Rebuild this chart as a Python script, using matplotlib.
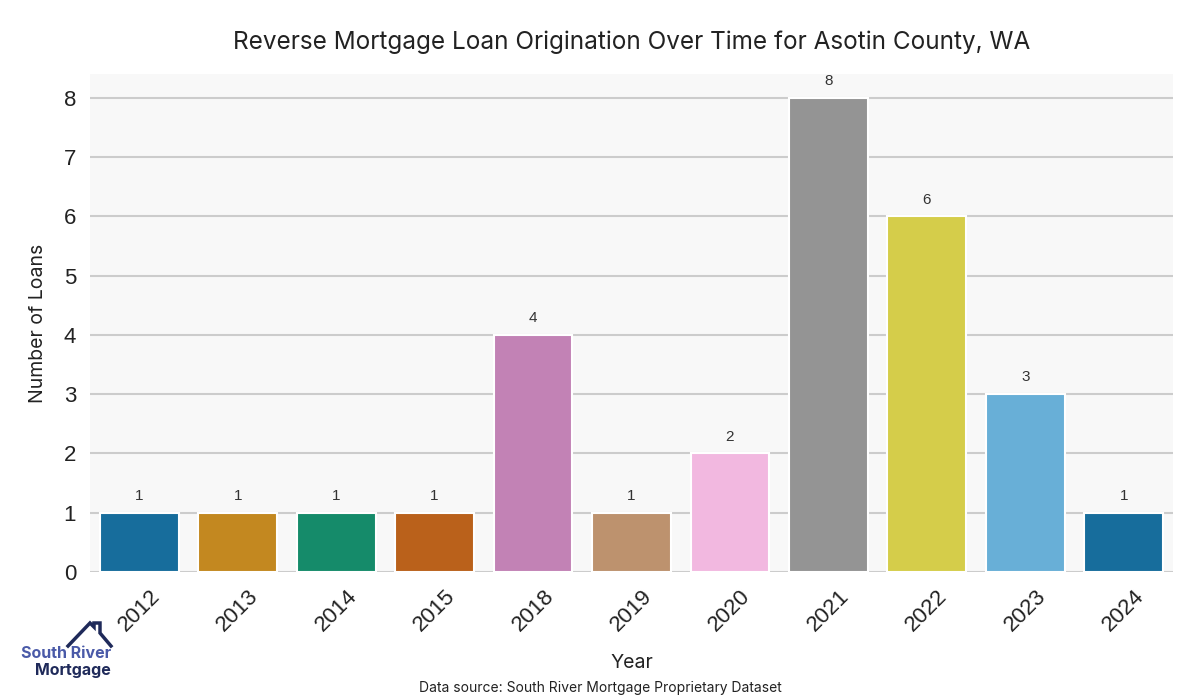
import colorsys
import matplotlib
matplotlib.use("Agg")
import matplotlib.pyplot as plt
from matplotlib.lines import Line2D

years = ["2012", "2013", "2014", "2015", "2018", "2019", "2020", "2021", "2022", "2023", "2024"]
loans = [1, 1, 1, 1, 4, 1, 2, 8, 6, 3, 1]

# seaborn "colorblind" palette, cycled
base_colors = ["#0173B2", "#DE8F05", "#029E73", "#D55E00", "#CC78BC",
               "#CA9161", "#FBAFE4", "#949494", "#ECE133", "#56B4E9"]


def desat(hexcol, prop=0.75):
    r, g, b = matplotlib.colors.to_rgb(hexcol)
    h, l, s = colorsys.rgb_to_hls(r, g, b)
    return colorsys.hls_to_rgb(h, l, s * prop)


colors = [desat(base_colors[i % len(base_colors)]) for i in range(len(years))]

title_font = "Inter"
tick_font = "Liberation Sans"

fig = plt.figure(figsize=(12, 7), dpi=100)
ax = fig.add_axes([0.075, 0.183, 0.9025, 0.711])
ax.set_facecolor("#f8f8f8")

x = list(range(len(years)))
bars = ax.bar(x, loans, width=0.8, color=colors, edgecolor="white", linewidth=1.5, zorder=3)
ax.bar_label(bars, labels=[str(v) for v in loans], padding=7, fontsize=11,
             color="#333333", family=tick_font)

ax.set_xlim(-0.5, len(years) - 0.5)
ax.set_ylim(0, 8.4)
ax.set_yticks(range(0, 9))
ax.yaxis.grid(True, color="#cccccc", linewidth=1.5, zorder=0)
ax.xaxis.grid(False)
for s in ax.spines.values():
    s.set_visible(False)

ax.set_xticks(x)
ax.set_xticklabels(years, rotation=45, fontsize=16, family=tick_font, color="#222222")
for lab in ax.get_yticklabels():
    lab.set_fontsize(16)
    lab.set_family(tick_font)
    lab.set_color("#222222")
ax.tick_params(axis="y", length=0, pad=10)
ax.tick_params(axis="x", length=0, pad=10)

ax.set_title("Reverse Mortgage Loan Origination Over Time for Asotin County, WA",
             fontsize=17.5, family=title_font, color="#222222", pad=18)
ax.set_ylabel("Number of Loans", fontsize=14, family=title_font, color="#222222", labelpad=12)
ax.set_xlabel("Year", fontsize=14, family=title_font, color="#222222", labelpad=13)

fig.text(0.5, 0.017, "Data source: South River Mortgage Proprietary Dataset",
         ha="center", va="center", fontsize=10, family=title_font, color="#222222")

# logo
W, H = 1200.0, 700.0
navy = "#1f2a5a"
house_x = [68, 90, 94, 94, 100, 100, 111]
house_y = [646, 623, 627, 623, 623, 633, 646]
fig.add_artist(Line2D([v / W for v in house_x], [1 - v / H for v in house_y],
                      color=navy, linewidth=2.5, solid_joinstyle="miter",
                      transform=fig.transFigure))
fig.text(111 / W, 1 - 654 / H, "South River", ha="right", va="center",
         fontsize=11.5, family=title_font, fontweight="bold", color="#4a5aa8")
fig.text(111 / W, 1 - 670 / H, "Mortgage", ha="right", va="center",
         fontsize=11.5, family=title_font, fontweight="bold", color=navy)

fig.savefig("out.png", dpi=100)
